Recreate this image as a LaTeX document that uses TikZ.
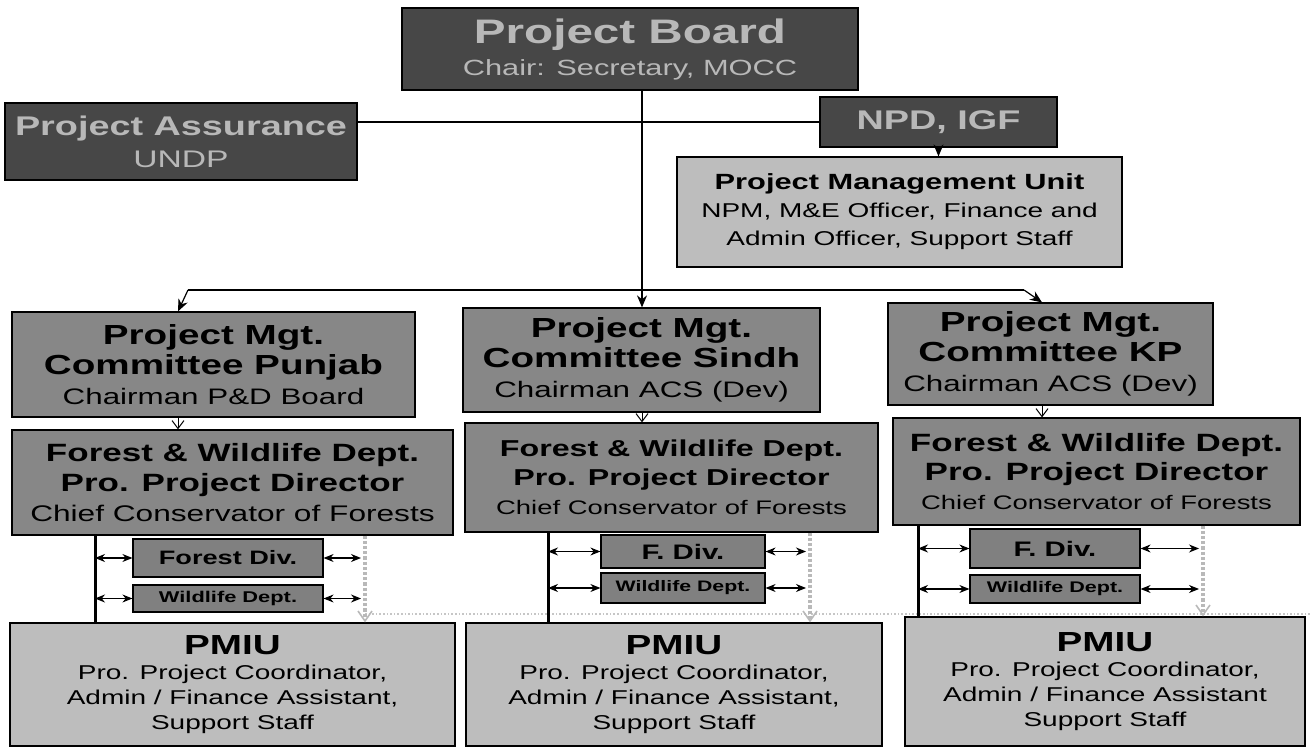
\documentclass[tikz,border=0pt]{standalone}
\usepackage{fontspec}
\setmainfont{Liberation Sans}[FakeStretch=1.4]
\usetikzlibrary{arrows.meta,calc}

\newcommand\fs[2]{\fontsize{#1}{#2}\selectfont}

\tikzset{
  darkbox/.style={draw=black, line width=0.6pt, fill=black!72, text=black!28, inner sep=0pt, align=center},
  midbox/.style={draw=black, line width=0.6pt, fill=black!47, text=black, inner sep=0pt, align=center},
  lightbox/.style={draw=black, line width=0.6pt, fill=black!26, text=black, inner sep=0pt, align=center},
  divbox/.style={draw=black, line width=0.6pt, fill=black!50, text=black, inner sep=0pt, align=center},
  size/.style n args={2}{minimum width=#1pt, minimum height=#2pt},
  link/.style={line width=0.6pt, -{Stealth[length=6pt,width=5pt]}},
  openlink/.style={line width=0.5pt, -{Straight Barb[length=4pt,width=6pt]}},
  spine/.style={line width=1.5pt},
  both/.style={line width=0.6pt, {Stealth[length=5pt,width=4pt]}-{Stealth[length=5pt,width=4pt]}},
  ghost/.style={gray!55, line width=1.6pt, densely dotted, -{Straight Barb[length=5pt,width=7pt,line width=0.8pt]}},
  faint/.style={gray!45, line width=0.8pt, densely dotted}
}

\begin{document}
\begin{tikzpicture}[x=0.5pt,y=-0.5pt]
  \useasboundingbox (0,0) rectangle (1311,753);

  % top level
  \node (board) [darkbox, size={228}{41}, font=\fs{11}{16}] at (630,49)
    {\fs{17}{16}\bfseries Project Board\\ Chair: Secretary, MOCC};
  \node (assure) [darkbox, size={176}{38.5}, font=\fs{12}{16}] at (181,141.5)
    {\fs{13.5}{16}\bfseries Project Assurance\\ UNDP};
  \node (npd) [darkbox, size={118.5}{25}, font=\fs{13.5}{16}\bfseries] at (938.5,122) {NPD, IGF};
  \node (pmu) [lightbox, size={222.5}{55}, font=\fs{10}{14}] at (899.5,212)
    {\fs{11}{14}\bfseries Project Management Unit\\ NPM, M\&E Officer, Finance and\\ Admin Officer, Support Staff};

  % provincial committees
  \node (pb-c) [midbox, size={201.5}{52.5}, font=\fs{13.8}{15}\bfseries] at (213.5,364.5)
    {Project Mgt.\\ Committee Punjab\\ \fs{11.2}{15}\mdseries Chairman P\&D Board};
  \node (sd-c) [midbox, size={178.5}{52}, font=\fs{13.8}{15}\bfseries] at (641.5,360)
    {Project Mgt.\\ Committee Sindh\\ \fs{11.2}{15}\mdseries Chairman ACS (Dev)};
  \node (kp-c) [midbox, size={162.5}{51}, font=\fs{13.8}{15}\bfseries] at (1050.5,354)
    {Project Mgt.\\ Committee KP\\ \fs{11.2}{15}\mdseries Chairman ACS (Dev)};

  % forest & wildlife departments
  \node (pb-f) [midbox, size={220.5}{52.5}, font=\fs{12.5}{15}\bfseries] at (232.5,482.5)
    {Forest \& Wildlife Dept.\\ Pro. Project Director\\ \fs{11.3}{15}\mdseries Chief Conservator of Forests};
  \node (sd-f) [midbox, size={206.5}{54.5}, font=\fs{11.5}{14.5}\bfseries] at (671.5,477.5)
    {Forest \& Wildlife Dept.\\ Pro. Project Director\\ \fs{9.8}{14.5}\mdseries Chief Conservator of Forests};
  \node (kp-f) [midbox, size={203.5}{53.5}, font=\fs{12.5}{14.5}\bfseries] at (1096.5,471.5)
    {Forest \& Wildlife Dept.\\ Pro. Project Director\\ \fs{9.8}{14.5}\mdseries Chief Conservator of Forests};

  % divisions
  \node (pb-fd) [divbox, size={95}{19}, font=\fs{9.7}{11}\bfseries] at (228,558) {Forest Div.};
  \node (pb-wd) [divbox, size={95}{13.5}, font=\fs{7.8}{9}\bfseries] at (228,598.5) {Wildlife Dept.};
  \node (sd-fd) [divbox, size={82}{16.5}, font=\fs{10.5}{12}\bfseries] at (683,551.5) {F. Div.};
  \node (sd-wd) [divbox, size={82}{15}, font=\fs{7.6}{9}\bfseries] at (683,588) {Wildlife Dept.};
  \node (kp-fd) [divbox, size={85}{19.5}, font=\fs{10.5}{12}\bfseries] at (1055,548.5) {F. Div.};
  \node (kp-wd) [divbox, size={85}{14}, font=\fs{7.7}{9}\bfseries] at (1055,589) {Wildlife Dept.};

  % PMIUs
  \node (pb-p) [lightbox, size={222.5}{61.5}, font=\fs{10}{12.5}] at (232.5,684.5)
    {\fs{13.8}{12.5}\bfseries PMIU\\ Pro. Project Coordinator,\\ Admin / Finance Assistant,\\ Support Staff};
  \node (sd-p) [lightbox, size={208}{61.5}, font=\fs{10}{12.5}] at (674,684.5)
    {\fs{13.8}{12.5}\bfseries PMIU\\ Pro. Project Coordinator,\\ Admin / Finance Assistant,\\ Support Staff};
  \node (kp-p) [lightbox, size={200}{64.5}, font=\fs{10}{12.5}] at (1105,681.5)
    {\fs{13.8}{12.5}\bfseries PMIU\\ Pro. Project Coordinator,\\ Admin / Finance Assistant\\ Support Staff};

  % columns used by the connectors
  \coordinate (pb-x) at (178,0);  \coordinate (sd-x) at (642,0);  \coordinate (kp-x) at (1042,0);
  \coordinate (pb-s) at (95,0);   \coordinate (sd-s) at (548,0);  \coordinate (kp-s) at (918,0);
  \coordinate (pb-g) at (365,0);  \coordinate (sd-g) at (810,0);  \coordinate (kp-g) at (1203,0);
  \coordinate (busL) at (188,290); \coordinate (busR) at (1024,290);
  \coordinate (lowL) at (365,614); \coordinate (lowR) at (1311,614);

  % top connectors
  \draw[line width=0.6pt] (npd.west) -- (npd.west -| assure.east);
  \draw[link] (npd.south) -- (npd.south |- pmu.north);
  \draw[line width=0.6pt] (busL) -- (busR);
  \draw[link] (board.south -| sd-x) -- (sd-c.north -| sd-x);
  \draw[link] (busL) -- (pb-c.north -| pb-x);
  \draw[link] (busR) -- (kp-c.north -| kp-x);
  \draw[faint] (lowL) -- (lowR);

  \foreach \p in {pb,sd,kp} {
    \draw[openlink] (\p-c.south -| \p-x) -- (\p-f.north -| \p-x);
    \draw[spine] (\p-f.south -| \p-s) -- (\p-p.north -| \p-s);
    \draw[ghost] (\p-f.south -| \p-g) -- (\p-p.north -| \p-g);
    \foreach \d in {fd,wd} {
      \draw[both] (\p-\d.west -| \p-s) -- (\p-\d.west);
      \draw[both] (\p-\d.east) -- ($(\p-\d.east -| \p-g)+(-4,0)$);
    }
  }
\end{tikzpicture}
\end{document}
